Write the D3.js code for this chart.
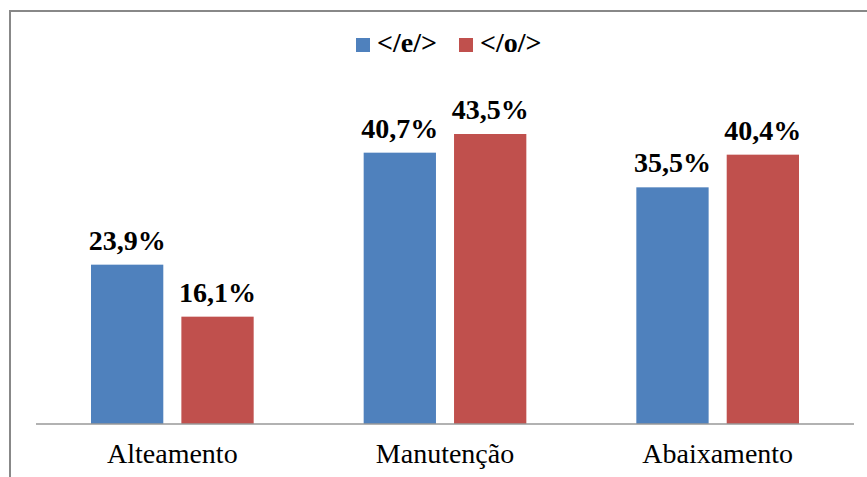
<!DOCTYPE html>
<html>
<head>
<meta charset="utf-8">
<script src="https://cdn.jsdelivr.net/npm/d3@7"></script>
<style>
  body { margin: 0; background: #fff; }
  svg { display: block; }
  text { font-family: "Liberation Serif", "Times New Roman", serif; }
</style>
</head>
<body>
<svg id="chart" width="867" height="477"></svg>
<script>
const categories = ["Alteamento", "Manutenção", "Abaixamento"];
const seriesNames = ["</e/>", "</o/>"];
const seriesColors = ["#4F81BD", "#C0504D"];
const valuesE = [23.9, 40.7, 35.5];
const valuesO = [16.1, 43.5, 40.4];
const labelsE = ["23,9%", "40,7%", "35,5%"];
const labelsO = ["16,1%", "43,5%", "40,4%"];

const svg = d3.select("#chart");
const serif = "Liberation Serif, Times New Roman, serif";

// frame (only top and left edges are visible in the crop)
svg.append("line").attr("x1", 10).attr("y1", 11).attr("x2", 867).attr("y2", 11)
  .attr("stroke", "#888").attr("stroke-width", 2);
svg.append("line").attr("x1", 10).attr("y1", 10).attr("x2", 10).attr("y2", 477)
  .attr("stroke", "#888").attr("stroke-width", 2);

const x0 = d3.scaleBand().domain(categories).range([36, 854]).paddingInner(0).paddingOuter(0);
const x1 = d3.scaleBand().domain([0, 1]).range([55, x0.bandwidth() - 55]).paddingInner(0.2);
const y = d3.scaleLinear().domain([0, 60]).range([424, 24]);

const rows = categories.map((c, i) => ({
  cat: c,
  vals: [
    { s: 0, v: valuesE[i], label: labelsE[i] },
    { s: 1, v: valuesO[i], label: labelsO[i] }
  ]
}));

const groups = svg.append("g").selectAll("g")
  .data(rows).enter().append("g")
  .attr("transform", d => `translate(${x0(d.cat)},0)`);

groups.selectAll("rect")
  .data(d => d.vals).enter().append("rect")
  .attr("x", d => x1(d.s))
  .attr("width", x1.bandwidth())
  .attr("y", d => y(d.v))
  .attr("height", d => y(0) - y(d.v))
  .attr("fill", d => seriesColors[d.s]);

groups.selectAll("text")
  .data(d => d.vals).enter().append("text")
  .attr("x", d => x1(d.s) + x1.bandwidth() / 2)
  .attr("y", d => y(d.v) - 15)
  .attr("text-anchor", "middle")
  .style("font-family", serif)
  .style("font-weight", "bold")
  .style("font-size", "28px")
  .attr("fill", "#000")
  .text(d => d.label);

// baseline axis
svg.append("line").attr("x1", 36).attr("x2", 854).attr("y1", 424).attr("y2", 424)
  .attr("stroke", "#999").attr("stroke-width", 1.5);

const xAxis = d3.axisBottom(x0).tickSize(0).tickPadding(0);
const ax = svg.append("g").attr("transform", "translate(0,424)").call(xAxis);
ax.select(".domain").remove();
ax.selectAll("text")
  .attr("dy", 0)
  .attr("y", 39)
  .style("font-family", serif)
  .style("font-size", "28px")
  .attr("fill", "#000");

// legend
const legendItems = [
  { name: seriesNames[0], color: seriesColors[0], x: 356 },
  { name: seriesNames[1], color: seriesColors[1], x: 459 }
];
const lg = svg.append("g").selectAll("g").data(legendItems).enter().append("g")
  .attr("transform", d => `translate(${d.x},38)`);
lg.append("rect").attr("width", 14).attr("height", 14).attr("fill", d => d.color);
lg.append("text").attr("x", 21).attr("y", 14)
  .style("font-family", serif).style("font-weight", "bold").style("font-size", "28px")
  .attr("fill", "#000")
  .text(d => d.name);
</script>
</body>
</html>
